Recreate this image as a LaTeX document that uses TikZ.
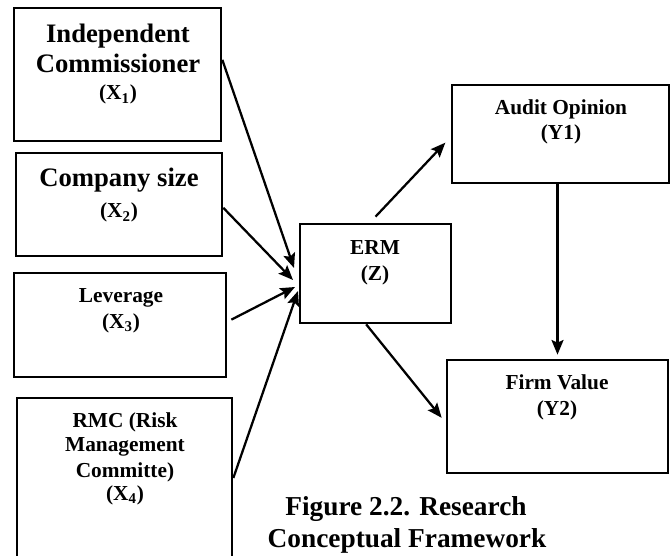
\documentclass[tikz,border=0pt]{standalone}
\usepackage{fontspec}
\setmainfont{Liberation Serif}
\usetikzlibrary{fit,arrows.meta}
\tikzstyle{bx}=[draw=black,line width=2pt,inner sep=0pt]
\tikzstyle{big}=[anchor=base,inner sep=0pt,font=\bfseries\fontsize{20}{24}\selectfont]
\tikzstyle{sml}=[anchor=base,inner sep=0pt,font=\bfseries\fontsize{16}{19}\selectfont]
\tikzstyle{arr}=[line width=1.7pt,-{Stealth[length=11pt,width=9pt,inset=2pt]}]

\begin{document}
\begin{tikzpicture}[x=0.75pt,y=-0.75pt]
	\useasboundingbox (0,0) rectangle (671,556);
	% boxes
	\node[bx,fit={(14,8) (221,141)}] (x1) {};
	\node[bx,fit={(16,153) (222,256)}] (x2) {};
	\node[bx,fit={(14,273) (226,377)}] (x3) {};
	\node[bx,fit={(17,398) (232,590)}] (x4) {};
	\node[bx,fit={(300,224) (451,323)}] (erm) {};
	\node[bx,fit={(452,85) (669,183)}] (aud) {};
	\node[bx,fit={(447,360) (668,473)}] (fv) {};
	% texts
	\node[big] (x1a) at (118,43) {Independent};
	\node[big] (x1b) at (118,73) {Commissioner};
	\node[sml] (x1c) at (118,100) {(X\textsubscript{1})};
	\node[big] (x2a) at (119,187) {Company size};
	\node[sml] (x2b) at (119,218) {(X\textsubscript{2})};
	\node[sml] (x3a) at (121,302) {Leverage};
	\node[sml] (x3b) at (121,328) {(X\textsubscript{3})};
	\node[sml] (x4a) at (125,427) {RMC (Risk};
	\node[sml] (x4b) at (125,451) {Management};
	\node[sml] (x4c) at (125,477) {Committe)};
	\node[sml] (x4d) at (125,500) {(X\textsubscript{4})};
	\node[sml] (erma) at (375,254) {ERM};
	\node[sml] (ermb) at (375,280) {(Z)};
	\node[sml] (auda) at (561,115) {Audit Opinion};
	\node[sml] (audb) at (561,140) {(Y1)};
	\node[sml] (fva) at (557,389) {Firm Value};
	\node[sml] (fvb) at (557,415) {(Y2)};
	\node[big,font=\bfseries\fontsize{20.5}{24}\selectfont] (cap1) at (406,515) {Figure 2.2. Research};
	\node[big,font=\bfseries\fontsize{20.5}{24}\selectfont] (cap2) at (407,547) {Conceptual Framework};
	% arrows
	\coordinate (t1) at (294,268);
	\coordinate (t2) at (293,280);
	\coordinate (t3) at (295,287);
	\coordinate (t4) at (298,291);
	\draw[arr] ([yshift=11pt]x1.east) -- (t1);
	\draw[arr] ([yshift=-2.5pt]x2.east) -- (t2);
	\draw[arr] ([xshift=3pt,yshift=4pt]x3.east) -- (t3);
	\draw[arr] ([yshift=12pt]x4.east) -- (t4);
	\draw[arr] ([yshift=4.5pt]erm.north) -- ([xshift=-4pt,yshift=-6.5pt]aud.west);
	\draw[arr] ([xshift=-7pt]erm.south) -- ([xshift=-3pt,yshift=-1pt]fv.west);
	\draw[arr] (aud.south -| fv.north) -- ([yshift=3pt]fv.north);
\end{tikzpicture}
\end{document}
